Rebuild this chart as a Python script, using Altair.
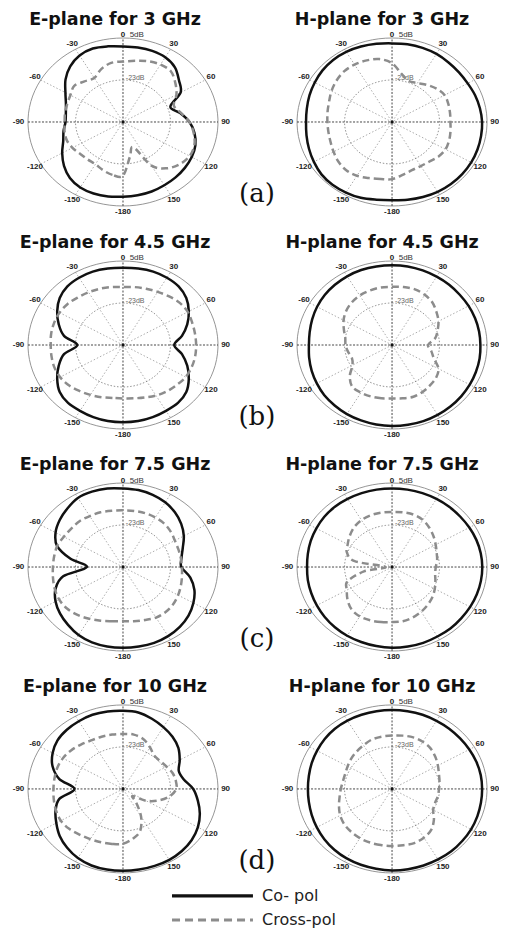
import altair as alt
import pandas as pd

# ---------------- data (gain in dB, angles in degrees) ----------------
ANGLES = list(range(-180, 180, 10))
POLS = ["Co- pol", "Cross-pol"]
TITLES = ["E-plane for 3 GHz", "H-plane for 3 GHz",
          "E-plane for 4.5 GHz", "H-plane for 4.5 GHz",
          "E-plane for 7.5 GHz", "H-plane for 7.5 GHz",
          "E-plane for 10 GHz", "H-plane for 10 GHz"]
ROW_TAGS = ["(a)", "(b)", "(c)", "(d)"]
TICK_ANGLES = [0, 30, 60, 90, 120, 150, 180, -150, -120, -90, -60, -30]
TICK_TEXT = ["0", "30", "60", "90", "120", "150", "-180", "-150", "-120", "-90", "-60", "-30"]
DB_MAX, DB_MID, DB_MIN = 5, -23, -51

E3_CO = [-1.2, -0.6, -0.3, -0.6, -2.3, -5.6, -9.6, -13.5, -15.4, -17.1, -16.8, -15.2,
         -11.8, -6.8, -2.6, 0.2, 1.1, 0.2, -0.6, -0.6, -0.6, -1.2, -3.4, -7.9,
         -11.8, -21.3, -16.8, -11.8, -8.2, -5.6, -4.2, -3.4, -2.8, -2.3, -1.7, -1.4]
E3_X = [-15.2, -15.2, -16.8, -18.5, -18.5, -18.0, -16.6, -15.7, -16.0, -16.6, -16.3, -16.0,
        -15.2, -13.5, -15.7, -17.1, -13.5, -11.0, -10.7, -9.6, -7.9, -6.8, -7.0, -10.7,
        -14.6, -19.1, -16.3, -11.8, -8.7, -6.2, -5.6, -7.3, -10.7, -17.4, -33.1, -27.5]
H3_CO = [1.1, 1.6, 2.8, 3.3, 3.6, 3.3, 2.2, 1.1, 0.2, -0.3, 0.0, 0.8,
         1.6, 2.5, 3.0, 3.0, 2.5, 1.9, 1.4, 1.6, 1.6, 1.4, 0.8, 0.5,
         0.5, 1.1, 1.6, 2.1, 2.3, 2.6, 2.9, 3.0, 3.0, 2.8, 2.2, 1.6]
H3_X = [-12.9, -12.4, -11.2, -9.6, -9.0, -9.8, -11.2, -12.4, -12.9, -12.9, -12.4, -11.5,
        -9.8, -8.2, -7.0, -6.8, -7.3, -8.4, -11.8, -18.5, -21.9, -21.0, -18.8, -16.6,
        -15.2, -15.7, -16.3, -16.6, -16.0, -15.2, -14.6, -15.2, -16.6, -17.1, -16.8, -15.2]
E45_CO = [0.5, 0.5, 0.2, -0.3, -0.6, -2.3, -6.2, -10.7, -15.7, -24.1, -15.7, -10.7,
          -6.2, -2.3, 0.0, 0.8, 1.1, 0.8, 0.5, 0.8, 1.1, 0.8, 0.0, -2.3,
          -6.2, -10.7, -15.7, -20.8, -15.7, -10.7, -6.2, -2.3, -0.6, -0.3, 0.2, 0.5]
E45_X = [-15.4, -15.2, -14.0, -12.6, -11.0, -9.3, -8.2, -7.9, -8.2, -8.4, -8.0, -7.8,
         -7.8, -8.4, -9.6, -10.4, -11.1, -11.8, -12.4, -11.8, -11.1, -10.1, -8.7, -7.3,
         -6.9, -7.6, -7.9, -7.9, -7.8, -7.9, -8.3, -9.6, -10.7, -12.1, -13.8, -14.9]
H45_CO = [3.0, 2.8, 2.5, 2.2, 1.6, 1.1, 0.2, -0.6, -1.4, -2.0, -1.7, -0.9,
          0.0, 0.8, 1.4, 1.9, 2.2, 2.2, 2.2, 2.2, 1.9, 1.6, 1.4, 1.1,
          1.1, 1.1, 1.1, 1.1, 1.4, 1.6, 1.9, 2.2, 2.5, 2.8, 3.0, 3.0]
H45_X = [-15.4, -14.9, -14.5, -14.3, -14.6, -18.5, -24.1, -25.8, -24.7, -23.6, -23.0, -20.8,
         -18.0, -15.7, -14.0, -12.9, -12.4, -12.1, -12.2, -11.8, -11.5, -12.4, -14.0, -16.8,
         -19.4, -22.4, -25.2, -29.7, -27.5, -24.7, -19.4, -17.1, -16.0, -14.9, -14.3, -14.9]
E75_CO = [2.8, 2.8, 2.5, 1.4, -0.6, -2.6, -5.1, -8.7, -15.2, -29.7, -19.6, -9.6,
          -5.1, -2.3, 0.0, 2.2, 2.5, 2.2, 1.4, 1.1, 0.2, -1.2, -3.4, -6.2,
          -9.6, -13.5, -16.0, -16.6, -10.7, -6.2, -3.1, -0.6, 1.1, 2.2, 2.8, 2.8]
E75_X = [-14.8, -14.3, -12.9, -11.2, -9.3, -7.9, -7.6, -8.2, -9.1, -9.7, -9.8, -9.8,
         -10.7, -11.2, -11.1, -11.8, -12.2, -12.9, -13.2, -13.0, -12.8, -12.9, -13.2, -14.3,
         -15.7, -16.3, -16.4, -16.3, -15.7, -14.7, -13.5, -12.4, -11.9, -12.1, -13.4, -14.3]
H75_CO = [2.8, 2.5, 2.2, 1.9, 1.4, 0.8, 0.2, -0.3, -0.6, -0.9, -0.6, 0.0,
          0.5, 1.1, 1.4, 1.4, 1.4, 1.4, 1.4, 1.4, 1.4, 1.4, 1.4, 1.4,
          1.6, 1.9, 2.1, 2.2, 2.2, 2.2, 2.2, 2.2, 2.5, 2.5, 2.8, 2.8]
H75_X = [-14.3, -13.8, -13.2, -13.0, -14.0, -16.8, -20.2, -23.0, -34.2, -47.1, -28.6, -22.7,
         -20.8, -18.5, -16.3, -14.9, -14.3, -14.2, -14.3, -14.0, -13.8, -14.7, -16.8, -19.1,
         -21.3, -23.0, -24.0, -25.2, -25.2, -23.8, -21.9, -19.9, -18.2, -16.6, -15.2, -14.3]
E10_CO = [3.6, 3.6, 3.3, 2.2, 0.2, -2.3, -5.6, -8.7, -12.9, -22.4, -12.9, -6.8,
          -3.1, -0.6, 0.5, 1.1, 1.6, 1.4, 1.1, 0.8, -1.2, -3.4, -5.6, -8.4,
          -12.4, -16.0, -14.6, -9.6, -6.2, -2.8, 0.0, 1.9, 3.0, 3.6, 3.6, 3.6]
E10_X = [-14.5, -13.8, -13.2, -12.4, -11.2, -9.6, -8.7, -9.0, -9.6, -10.0, -10.0, -9.8,
         -10.1, -11.0, -12.4, -13.6, -14.0, -14.2, -14.3, -14.2, -15.7, -19.1, -22.2, -22.2,
         -21.3, -19.9, -19.4, -19.6, -23.0, -28.6, -35.3, -43.7, -38.7, -29.7, -21.3, -17.4]
H10_CO = [3.3, 3.0, 2.8, 2.5, 1.9, 1.1, 0.2, -0.6, -1.2, -1.4, -1.2, -0.6,
          0.0, 0.8, 1.4, 1.6, 1.6, 1.6, 1.6, 1.6, 1.6, 1.4, 1.4, 1.4,
          1.6, 1.9, 2.1, 2.1, 2.2, 2.5, 2.8, 3.0, 3.3, 3.3, 3.3, 3.3]
H10_X = [-13.0, -13.0, -13.0, -13.1, -13.6, -14.3, -15.7, -17.7, -19.6, -20.8, -21.6, -21.6,
         -20.8, -19.6, -18.5, -17.4, -16.0, -15.6, -15.4, -14.9, -14.4, -14.7, -15.7, -17.7,
         -19.8, -21.6, -22.6, -23.3, -23.6, -24.0, -23.0, -18.8, -15.2, -13.5, -12.6, -12.9]

SERIES = [(E3_CO, E3_X), (H3_CO, H3_X), (E45_CO, E45_X), (H45_CO, H45_X),
          (E75_CO, E75_X), (H75_CO, H75_X), (E10_CO, E10_X), (H10_CO, H10_X)]

# ---------------- layout (1 unit = outer ring radius) ----------------
PX_X, PX_Y = 95.0, 84.0
COL_X = [0.0, 2.832]
ROW_Y = [0.0, -2.655, -5.298, -7.94]
W, H = 491, 920
X0, Y1 = -1.2105, 1.357
XS = alt.Scale(domain=[X0, X0 + W / PX_X], nice=False, zero=False)
YS = alt.Scale(domain=[Y1 - H / PX_Y, Y1], nice=False, zero=False)
TITLE_DX = [-0.084, -0.105]


def center(p):
    return COL_X[p % 2], ROW_Y[p // 2]


def tick_radius(p, a):
    if a == -90:
        return 1.10
    if a == 90:
        return 1.08
    if a == 0:
        return 1.03
    return 1.07


curve_rows = []
for p, pair in enumerate(SERIES):
    cx, cy = center(p)
    for pol, vals in zip(POLS, pair):
        for a, v in zip(ANGLES, vals):
            curve_rows.append(dict(panel=p, pol=pol, angle=a, db=v, cx=cx, cy=cy))
curve_df = pd.DataFrame(curve_rows)

ring_rows = []
for p in range(8):
    cx, cy = center(p)
    for ring in ("outer", "mid"):
        for a in range(0, 361, 4):
            ring_rows.append(dict(panel=p, ring=ring, a=a, cx=cx, cy=cy,
                                  db=DB_MAX if ring == "outer" else DB_MID))
ring_df = pd.DataFrame(ring_rows)

spoke_rows = []
for p in range(8):
    cx, cy = center(p)
    for a in (0, 30, 60, 90, 120, 150):
        spoke_rows.append(dict(panel=p, a=a, major=a in (0, 90), cx=cx, cy=cy))
spoke_df = pd.DataFrame(spoke_rows)

tick_rows = []
for p in range(8):
    cx, cy = center(p)
    for a, t in zip(TICK_ANGLES, TICK_TEXT):
        tick_rows.append(dict(panel=p, a=a, label=t, cx=cx, cy=cy, rr=tick_radius(p, a)))
tick_df = pd.DataFrame(tick_rows)

panel_df = pd.DataFrame([dict(panel=p, cx=center(p)[0], cy=center(p)[1],
                              title=TITLES[p], tdx=TITLE_DX[p % 2]) for p in range(8)])
tag_df = pd.DataFrame([dict(tag=t, cx=COL_X[0], cy=ROW_Y[i]) for i, t in enumerate(ROW_TAGS)])
legend_df = pd.DataFrame({"pol": POLS, "i": [0, 1]})

X = alt.X("x:Q", scale=XS, axis=None)
Y = alt.Y("y:Q", scale=YS, axis=None)
RAD = "(datum.db - %g) / %g" % (DB_MIN, DB_MAX - DB_MIN)

rings = alt.Chart(ring_df).transform_calculate(
    r=RAD,
    x="datum.cx + datum.r * sin(datum.a * PI / 180)",
    y="datum.cy + datum.r * cos(datum.a * PI / 180)",
)
outer_ring = rings.transform_filter("datum.ring == 'outer'").mark_line(
    color="#8a8a8a", strokeWidth=0.9).encode(x=X, y=Y, detail="panel:N", order="a:Q")
mid_ring = rings.transform_filter("datum.ring == 'mid'").mark_line(
    color="#777777", strokeWidth=0.8, strokeDash=[1.5, 1.8]).encode(
    x=X, y=Y, detail="panel:N", order="a:Q")

spokes = alt.Chart(spoke_df).transform_calculate(
    x="datum.cx - sin(datum.a * PI / 180)",
    y="datum.cy - cos(datum.a * PI / 180)",
    x2="datum.cx + sin(datum.a * PI / 180)",
    y2="datum.cy + cos(datum.a * PI / 180)",
)
minor_spokes = spokes.transform_filter("!datum.major").mark_rule(
    color="#8a8a8a", strokeWidth=0.7, strokeDash=[1.5, 2]).encode(
    x=X, y=Y, x2="x2:Q", y2="y2:Q")
major_spokes = spokes.transform_filter("datum.major").mark_rule(
    color="#333333", strokeWidth=0.9, strokeDash=[2, 1.5]).encode(
    x=X, y=Y, x2="x2:Q", y2="y2:Q")

ticks = alt.Chart(tick_df).transform_calculate(
    x="datum.cx + datum.rr * sin(datum.a * PI / 180)",
    y="datum.cy + datum.rr * cos(datum.a * PI / 180)",
).mark_text(font="Liberation Sans", fontSize=8, fontWeight="bold", color="#222222",
            align="center", baseline="middle").encode(x=X, y=Y, text="label:N")

base_p = alt.Chart(panel_df)
db5 = base_p.transform_calculate(x="datum.cx + 0.07", y="datum.cy + 1.03").mark_text(
    font="Liberation Sans", fontSize=8, color="#333333", align="left", baseline="middle",
    text="5dB").encode(x=X, y=Y)
db23 = base_p.transform_calculate(x="datum.cx + 0.03", y="datum.cy + 0.52").mark_text(
    font="Liberation Sans", fontSize=7, color="#666666", align="left", baseline="middle",
    text="-23dB").encode(x=X, y=Y)
dots = base_p.transform_calculate(x="datum.cx", y="datum.cy").mark_point(
    filled=True, size=10, color="#111111", opacity=1).encode(x=X, y=Y)
titles = base_p.transform_calculate(x="datum.cx + datum.tdx", y="datum.cy + 1.155").mark_text(
    font="DejaVu Sans", fontSize=17.5, fontWeight="bold", color="#111111",
    align="center", baseline="alphabetic").encode(x=X, y=Y, text="title:N")

tags = alt.Chart(tag_df).transform_calculate(x="datum.cx + 1.41", y="datum.cy - 0.857").mark_text(
    font="DejaVu Serif", fontSize=26, color="#111111", align="center", baseline="middle"
).encode(x=X, y=Y, text="tag:N")

COLOR = alt.Color("pol:N", scale=alt.Scale(domain=POLS, range=["#111111", "#8c8c8c"]), legend=None)
curves = alt.Chart(curve_df).transform_calculate(
    r=RAD,
    x="datum.cx + datum.r * sin(datum.angle * PI / 180)",
    y="datum.cy + datum.r * cos(datum.angle * PI / 180)",
)
co_lines = curves.transform_filter("datum.pol == 'Co- pol'").mark_line(
    interpolate="cardinal-closed", strokeWidth=2.5).encode(
    x=X, y=Y, color=COLOR, detail="panel:N", order="angle:Q")
cross_lines = curves.transform_filter("datum.pol == 'Cross-pol'").mark_line(
    interpolate="cardinal-closed", strokeWidth=2.5, strokeDash=[7, 4]).encode(
    x=X, y=Y, color=COLOR, detail="panel:N", order="angle:Q")

leg = alt.Chart(legend_df).transform_calculate(
    x="0.516", x2="1.368", tx="1.463", y="%g - 1.274 - datum.i * 0.286" % ROW_Y[3])
leg_lines = leg.mark_rule(strokeWidth=3.2).encode(
    x=X, x2="x2:Q", y=Y, color=COLOR,
    strokeDash=alt.StrokeDash("pol:N", scale=alt.Scale(domain=POLS, range=[[1, 0], [8, 5]]),
                              legend=None))
leg_text = leg.mark_text(font="DejaVu Sans", fontSize=16, color="#222222", align="left",
                         baseline="middle").encode(x=alt.X("tx:Q", scale=XS, axis=None), y=Y,
                                                    text="pol:N")

chart = alt.layer(
    minor_spokes, mid_ring, outer_ring, major_spokes, ticks, db5, db23,
    co_lines, cross_lines, dots, titles, tags, leg_lines, leg_text,
).properties(
    width=W, height=H, padding=0, autosize=alt.AutoSizeParams(type="none"),
).configure_view(strokeWidth=0)

chart.save("out.html", embed_options={"renderer": "svg", "actions": False})
